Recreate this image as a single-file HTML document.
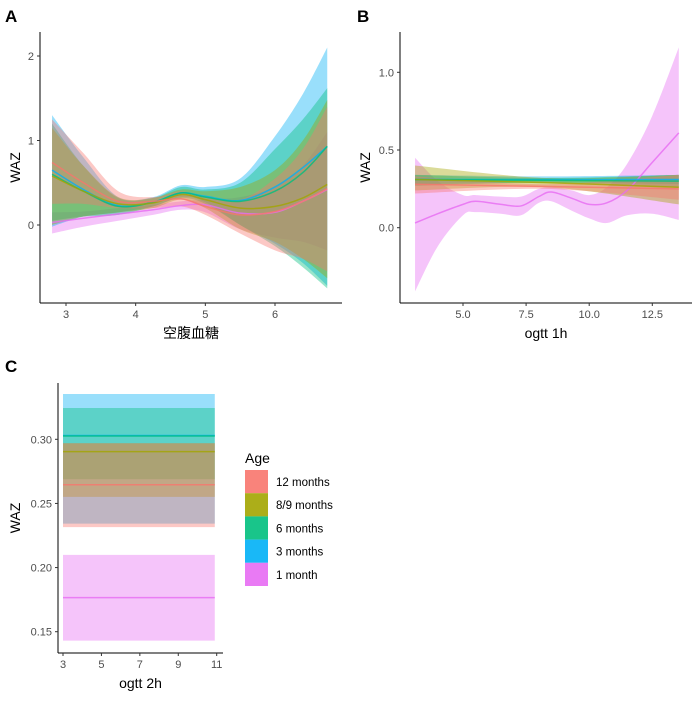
<!DOCTYPE html>
<html><head><meta charset="utf-8"><style>
body{margin:0;background:#fff}
svg text{font-family:"Liberation Sans","Noto Sans CJK SC",sans-serif}
.tk{font-size:11px;fill:#4d4d4d}
.tt{font-size:14px;fill:#000}
.pl{font-size:17px;font-weight:bold;fill:#000}
</style></head><body>
<svg id="c" width="700" height="700" xmlns="http://www.w3.org/2000/svg"></svg>
<script>
const ageLabels=["12 months","8/9 months","6 months","3 months","1 month"];
const ageColors=["#F8766D","#A3A500","#00BF7D","#00B0F6","#E76BF3"];
// Panel A data (x = 空腹血糖)
const aX=[2.8,3.25,3.75,4.25,4.65,5.0,5.5,6.0,6.4,6.75];
const aLine=[
 [0.74,0.50,0.28,0.28,0.31,0.22,0.12,0.16,0.28,0.43],
 [0.58,0.40,0.25,0.26,0.36,0.30,0.20,0.22,0.32,0.48],
 [0.60,0.40,0.22,0.27,0.38,0.33,0.28,0.40,0.62,0.93],
 [0.65,0.42,0.23,0.27,0.38,0.34,0.29,0.45,0.68,0.93],
 [0.03,0.08,0.13,0.18,0.23,0.24,0.14,0.15,0.28,0.42]];
const aLow=[
 [0.25,0.25,0.20,0.20,0.22,0.12,-0.10,-0.30,-0.40,-0.55],
 [0.00,0.10,0.15,0.20,0.30,0.20,-0.05,-0.20,-0.40,-0.63],
 [0.05,0.10,0.12,0.22,0.32,0.25,0.00,-0.25,-0.50,-0.75],
 [-0.02,0.10,0.15,0.22,0.33,0.27,0.00,-0.22,-0.45,-0.72],
 [-0.10,-0.02,0.05,0.12,0.18,0.15,-0.05,-0.15,-0.20,-0.30]];
const aHigh=[
 [1.25,0.85,0.40,0.33,0.40,0.33,0.30,0.55,0.90,1.40],
 [1.15,0.70,0.33,0.32,0.42,0.40,0.45,0.65,1.00,1.48],
 [1.20,0.70,0.32,0.32,0.45,0.42,0.50,0.90,1.25,1.62],
 [1.30,0.80,0.33,0.33,0.47,0.45,0.55,1.05,1.55,2.10],
 [0.15,0.16,0.20,0.24,0.28,0.30,0.33,0.45,0.70,1.10]];
const aXTicks=[3,4,5,6], aYTicks=[0,1,2];
// Panel B data (ogtt 1h)
const bX=[3.1,8.3,13.55];
const bLine=[[0.28,0.265,0.25],[0.31,0.29,0.26],[0.31,0.305,0.30],[0.31,0.31,0.31]];
const bLow=[[0.22,0.25,0.18],[0.24,0.26,0.15],[0.27,0.29,0.26],[0.28,0.29,0.28]];
const bHigh=[[0.33,0.28,0.34],[0.40,0.32,0.34],[0.34,0.32,0.34],[0.34,0.33,0.34]];
const bPinkX=[3.1,4,5,5.5,6.5,7.3,8,8.5,9.3,10,10.7,11.5,12.5,13.55];
const bPinkLine=[0.03,0.09,0.15,0.17,0.15,0.14,0.20,0.23,0.19,0.15,0.16,0.24,0.42,0.61];
const bPinkLow=[-0.41,-0.12,0.08,0.10,0.09,0.08,0.16,0.17,0.11,0.06,0.03,0.08,0.09,0.05];
const bPinkHigh=[0.45,0.30,0.21,0.21,0.20,0.20,0.25,0.26,0.24,0.21,0.26,0.41,0.72,1.16];
const bXTicks=[5,7.5,10,12.5], bXTickLabels=["5.0","7.5","10.0","12.5"];
const bYTicks=[0,0.5,1], bYTickLabels=["0.0","0.5","1.0"];
// Panel C data (ogtt 2h)
const cX=[3,10.9];
const cLine=[0.2646,0.2904,0.3026,0.3030,0.1766];
const cLow=[0.2315,0.2551,0.2689,0.2343,0.1430];
const cHigh=[0.2969,0.2969,0.3244,0.3353,0.2099];
const cXTicks=[3,5,7,9,11], cYTicks=[0.15,0.20,0.25,0.30], cYTickLabels=["0.15","0.20","0.25","0.30"];

const NS="http://www.w3.org/2000/svg", svg=document.getElementById('c');
function mk(tag,attrs,parent,txt){const e=document.createElementNS(NS,tag);for(const k in attrs)e.setAttribute(k,attrs[k]);if(txt!==undefined)e.textContent=txt;(parent||svg).appendChild(e);return e;}
function lin(d0,d1,p0,p1){return v=>p0+(v-d0)*(p1-p0)/(d1-d0);}
function crPath(pts,start){
 let d=(start?'M':'L')+pts[0][0]+','+pts[0][1];
 if(pts.length<3){for(let i=1;i<pts.length;i++)d+=' L'+pts[i][0]+','+pts[i][1];return d;}
 for(let i=0;i<pts.length-1;i++){
  const p0=pts[Math.max(0,i-1)],p1=pts[i],p2=pts[i+1],p3=pts[Math.min(pts.length-1,i+2)];
  const c1x=p1[0]+(p2[0]-p0[0])/6,c1y=p1[1]+(p2[1]-p0[1])/6,c2x=p2[0]-(p3[0]-p1[0])/6,c2y=p2[1]-(p3[1]-p1[1])/6;
  d+=` C${c1x},${c1y} ${c2x},${c2y} ${p2[0]},${p2[1]}`;
 }
 return d;
}
function band(g,xs,lo,hi,sx,sy,col,name){
 const up=xs.map((x,i)=>[sx(x),sy(hi[i])]);
 const dn=xs.map((x,i)=>[sx(x),sy(lo[i])]).reverse();
 const e=mk('path',{d:crPath(up,true)+' '+crPath(dn,false)+' Z',fill:col,'fill-opacity':0.4},g);
 
 
}
function line(g,xs,ys,sx,sy,col,name){
 const e=mk('path',{d:crPath(xs.map((x,i)=>[sx(x),sy(ys[i])]),true),fill:'none',stroke:col,'stroke-width':1.5,'stroke-opacity':0.8},g);
 
 
}
function axes(g,L,B,R,T,sx,sy,xt,xl,yt,yl,xtitle,ytitle,ytx,panel,px,py){
 mk('line',{x1:L,y1:B,x2:R,y2:B,stroke:'#000','stroke-width':1},g);
 mk('line',{x1:L,y1:B,x2:L,y2:T,stroke:'#000','stroke-width':1},g);
 xt.forEach((v,i)=>{const x=sx(v);mk('line',{x1:x,y1:B,x2:x,y2:B+3,stroke:'#333'},g);
  const t=mk('text',{x:x,y:B+15,'text-anchor':'middle',class:'tk'},g,xl[i]);});
 yt.forEach((v,i)=>{const y=sy(v);mk('line',{x1:L-3,y1:y,x2:L,y2:y,stroke:'#333'},g);
  const t=mk('text',{x:L-6,y:y+4,'text-anchor':'end',class:'tk'},g,yl[i]);});
 const xt2=mk('text',{x:(L+R)/2,y:B+35,'text-anchor':'middle',class:'tt'},g,xtitle);
 const yt2=mk('text',{x:0,y:0,'text-anchor':'middle',class:'tt',transform:`translate(${ytx},${(T+B)/2}) rotate(-90)`},g,ytitle);
 const pl=mk('text',{x:px,y:py,class:'pl'},g,panel);
}
// Panel A
{const g=mk('g',{});
 const sx=lin(3,6,66,275), sy=lin(0,2,225,56);
 for(let i=4;i>=0;i--)band(g,aX,aLow[i],aHigh[i],sx,sy,ageColors[i],'band-a-'+i);
 for(let i=4;i>=0;i--)line(g,aX,aLine[i],sx,sy,ageColors[i],'line-a-'+i);
 axes(g,40,303,342,32,sx,sy,aXTicks,aXTicks.map(String),aYTicks,aYTicks.map(String),'空腹血糖','WAZ',20,'A',5,22);}
// Panel B
{const g=mk('g',{});
 const sx=lin(5,12.5,463,652.3), sy=lin(0,1,227.7,72.3);
 band(g,bPinkX,bPinkLow,bPinkHigh,sx,sy,ageColors[4],'band-b-1-month');
 for(let i=3;i>=0;i--)band(g,bX,bLow[i],bHigh[i],sx,sy,ageColors[i],'band-b-'+i);
 line(g,bPinkX,bPinkLine,sx,sy,ageColors[4],'line-b-1-month');
 for(let i=3;i>=0;i--)line(g,bX,bLine[i],sx,sy,ageColors[i],'line-b-'+i);
 axes(g,400,303,692,32,sx,sy,bXTicks,bXTickLabels,bYTicks,bYTickLabels,'ogtt 1h','WAZ',370,'B',357,22);}
// Panel C
{const g=mk('g',{});
 const sx=lin(3,11,63,216.7), sy=lin(0.15,0.30,631.7,439.3);
 for(let i=4;i>=0;i--)band(g,cX,[cLow[i],cLow[i]],[cHigh[i],cHigh[i]],sx,sy,ageColors[i],'band-c-'+i);
 for(let i=4;i>=0;i--)line(g,cX,[cLine[i],cLine[i]],sx,sy,ageColors[i],'line-c-'+i);
 axes(g,58,653,223,383,sx,sy,cXTicks,cXTicks.map(String),cYTicks,cYTickLabels,'ogtt 2h','WAZ',20,'C',5,372);
 // legend
 const lg=mk('g',{},svg);
 const tt=mk('text',{x:245,y:463,class:'tt'},lg,'Age');
 ageLabels.forEach((l,i)=>{const y=470+i*23.2;
  const r=mk('rect',{x:245,y:y,width:23,height:23.2,fill:ageColors[i],'fill-opacity':0.9},lg);
  
  
  const t=mk('text',{x:276,y:y+16,style:'font-size:11.5px'},lg,l);
  
  });}
</script>
</body></html>
